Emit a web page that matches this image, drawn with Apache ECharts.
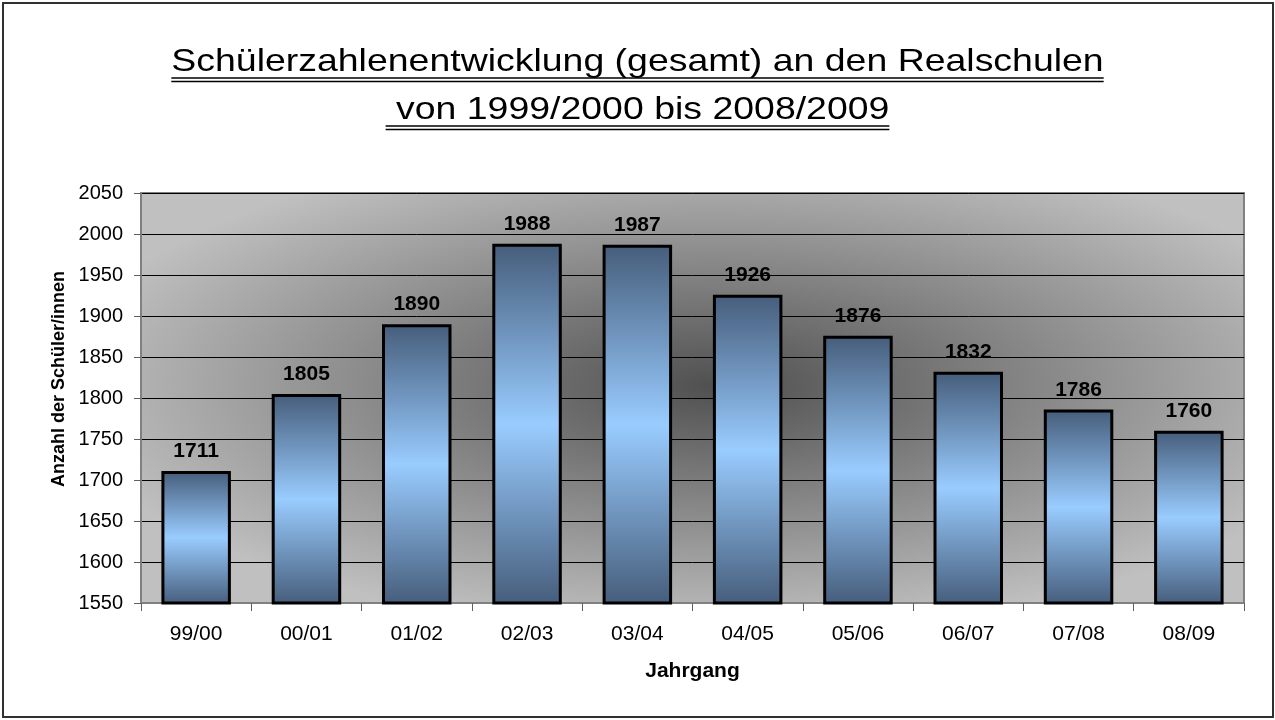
<!DOCTYPE html>
<html>
<head>
<meta charset="utf-8">
<script src="https://cdn.jsdelivr.net/npm/echarts@6/dist/echarts.min.js"></script>
<style>
  html, body { margin: 0; padding: 0; background: #fff; }
  #chart { width: 1275px; height: 720px; }
</style>
</head>
<body>
<div id="chart"></div>
<script>
// Schülerzahlen an den Realschulen
const jahrgaenge = ['99/00', '00/01', '01/02', '02/03', '03/04', '04/05', '05/06', '06/07', '07/08', '08/09']
const schueler = [1711, 1805, 1890, 1988, 1987, 1926, 1876, 1832, 1786, 1760]
const titelZeilen = ['Schülerzahlenentwicklung (gesamt) an den Realschulen', ' von 1999/2000 bis 2008/2009']
const yMin = 1550
const yMax = 2050
const yStep = 50

const FONT = 'Arial, "Liberation Sans", sans-serif'
const W = 1275
const grid = { left: 141, top: 193, right: 31, bottom: 117 }
const gridW = W - grid.left - grid.right
const gridH = 720 - grid.top - grid.bottom

// title text is a bit wider than high in the original, so stretch it
const titleSize = 32
const titleStretch = 1.17
const ctx = document.createElement('canvas').getContext('2d')
ctx.font = titleSize + 'px ' + FONT

const titleBaselines = [72, 120]
const titleGraphics = []
titelZeilen.forEach((txt, i) => {
  const w = ctx.measureText(txt).width * titleStretch
  const base = titleBaselines[i]
  titleGraphics.push({
    type: 'text',
    x: W / 2,
    y: base - 10,
    scaleX: titleStretch,
    style: {
      text: txt,
      font: titleSize + 'px ' + FONT,
      fill: '#000',
      textAlign: 'center',
      textVerticalAlign: 'middle'
    }
  })
  // double underline
  ;[6, 9.5].forEach(d => {
    titleGraphics.push({
      type: 'line',
      shape: { x1: W / 2 - w / 2, y1: base + d, x2: W / 2 + w / 2, y2: base + d },
      style: { stroke: '#000', lineWidth: 1.5 }
    })
  })
})

const chart = echarts.init(document.getElementById('chart'))
const option = {
  backgroundColor: '#fff',
  animation: false,
  grid: {
    left: grid.left,
    top: grid.top,
    right: grid.right,
    bottom: grid.bottom,
    show: true,
    backgroundColor: 'transparent',
    borderColor: '#808080',
    borderWidth: 2
  },
  graphic: [
    {
      // plot area background, elliptic gradient
      type: 'rect',
      x: grid.left,
      y: grid.top,
      scaleX: gridW / gridH,
      z: -10,
      silent: true,
      shape: { x: 0, y: 0, width: gridH, height: gridH },
      style: {
        fill: {
          type: 'radial', x: 0.52, y: 0.47, r: 0.6,
          colorStops: [
            { offset: 0, color: '#505050' },
            { offset: 0.5, color: '#888888' },
            { offset: 1, color: '#c0c0c0' }
          ]
        }
      }
    },
    {
      type: 'rect',
      silent: true,
      shape: { x: 3, y: 3, width: 1270, height: 714 },
      style: { fill: 'none', stroke: '#303030', lineWidth: 2 }
    }
  ].concat(titleGraphics),
  xAxis: {
    type: 'category',
    data: jahrgaenge,
    name: 'Jahrgang',
    nameLocation: 'middle',
    nameGap: 58,
    nameTextStyle: { fontFamily: FONT, fontSize: 21, fontWeight: 'bold', color: '#000' },
    axisLine: { show: true, lineStyle: { color: '#808080', width: 2 } },
    axisTick: { show: true, length: 8, lineStyle: { color: '#606060' } },
    axisLabel: { margin: 21, fontFamily: FONT, fontSize: 21, color: '#000' }
  },
  yAxis: {
    type: 'value',
    min: yMin,
    max: yMax,
    interval: yStep,
    name: 'Anzahl der Schüler/innen',
    nameLocation: 'middle',
    nameRotate: 90,
    nameGap: 72,
    nameTextStyle: {
      fontFamily: FONT, fontSize: 18, fontWeight: 'bold', color: '#000',
      padding: [0, 0, 0, 38]
    },
    axisLine: { show: true, lineStyle: { color: '#808080', width: 2 } },
    axisTick: { show: true, length: 7, lineStyle: { color: '#606060' } },
    axisLabel: {
      margin: 18, fontFamily: FONT, fontSize: 20, color: '#000',
      formatter: v => String(v)
    },
    splitLine: { show: true, lineStyle: { color: '#000', width: 1 } }
  },
  series: [
    {
      type: 'bar',
      data: schueler,
      barCategoryGap: '37%',
      itemStyle: {
        borderColor: '#000',
        borderWidth: 3,
        color: {
          type: 'linear', x: 0, y: 0, x2: 0, y2: 1,
          colorStops: [
            { offset: 0, color: '#465d7b' },
            { offset: 0.5, color: '#99ccff' },
            { offset: 1, color: '#465d7b' }
          ]
        }
      },
      label: {
        show: true,
        position: 'top',
        distance: 9,
        fontFamily: FONT,
        fontSize: 21,
        fontWeight: 'bold',
        color: '#000'
      }
    }
  ]
}
chart.setOption(option)
</script>
</body>
</html>
